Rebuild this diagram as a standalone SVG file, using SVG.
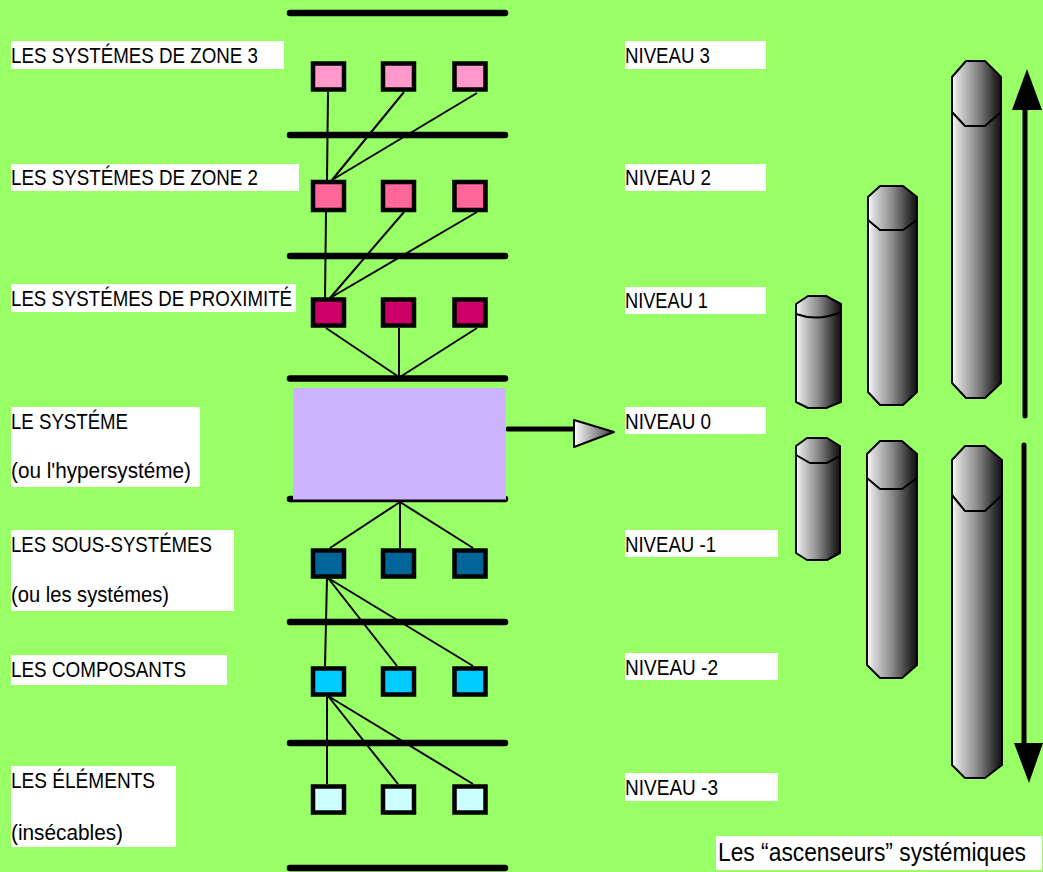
<svg xmlns="http://www.w3.org/2000/svg" width="1043" height="872" viewBox="0 0 1043 872">
<defs>
<linearGradient id="cyl" x1="0" y1="0" x2="1" y2="0">
<stop offset="0" stop-color="#ffffff"/>
<stop offset="0.1" stop-color="#dcdcdc"/>
<stop offset="0.5" stop-color="#8a8a8a"/>
<stop offset="0.88" stop-color="#2a2a2a"/>
<stop offset="1" stop-color="#111111"/>
</linearGradient>
<linearGradient id="tri" x1="0" y1="0" x2="1" y2="0">
<stop offset="0" stop-color="#ffffff"/>
<stop offset="1" stop-color="#3a3a3a"/>
</linearGradient>
<style>
.bar{stroke:#000;stroke-width:6.5;stroke-linecap:round;fill:none}
.ln{stroke:#000;stroke-width:2;fill:none}
.sq{stroke:#000;stroke-width:4.5}
.lbl{fill:#fff}
.t{font-family:"Liberation Sans",Arial,sans-serif;font-size:22px;fill:#000}
.cyl{fill:url(#cyl);stroke:#000;stroke-width:2;stroke-linejoin:round}
.cap{fill:none;stroke:#000;stroke-width:2}
</style>
</defs>
<rect width="1043" height="872" fill="#99FF66"/>

<g id="levels">
<line class="bar" x1="290" y1="13" x2="505" y2="13"/>
<line class="bar" x1="290" y1="135" x2="505" y2="135"/>
<line class="bar" x1="290" y1="256" x2="505" y2="256"/>
<line class="bar" x1="290" y1="378.5" x2="505" y2="378.5"/>
<line class="bar" x1="290" y1="499" x2="505" y2="499"/>
<line class="bar" x1="290" y1="622" x2="505" y2="622"/>
<line class="bar" x1="290" y1="743" x2="505" y2="743"/>
<line class="bar" x1="290" y1="868" x2="505" y2="868"/>
</g>

<g id="connectors">
<line class="ln" x1="328" y1="92" x2="327" y2="180"/>
<line class="ln" x1="404" y1="92" x2="332" y2="180"/>
<line class="ln" x1="477" y1="93" x2="332" y2="180"/>
<line class="ln" x1="326" y1="212" x2="325" y2="300"/>
<line class="ln" x1="404" y1="212" x2="330" y2="298"/>
<line class="ln" x1="477" y1="212" x2="330" y2="298"/>
<line class="ln" x1="326" y1="328" x2="399" y2="377"/>
<line class="ln" x1="399" y1="328" x2="399" y2="377"/>
<line class="ln" x1="477" y1="328" x2="400" y2="377"/>
<line class="ln" x1="400" y1="502" x2="330" y2="548"/>
<line class="ln" x1="400" y1="502" x2="400" y2="548"/>
<line class="ln" x1="400" y1="502" x2="473" y2="548"/>
<line class="ln" x1="327" y1="578" x2="325" y2="666"/>
<line class="ln" x1="328" y1="578" x2="397" y2="666"/>
<line class="ln" x1="328" y1="578" x2="473" y2="666"/>
<line class="ln" x1="327" y1="696" x2="327" y2="784"/>
<line class="ln" x1="328" y1="696" x2="398" y2="784"/>
<line class="ln" x1="328" y1="696" x2="473" y2="784"/>
<line x1="508" y1="429" x2="572" y2="429" stroke="#000" stroke-width="5" stroke-linecap="round"/>
<polygon points="574,420 574,447 614,432" fill="url(#tri)" stroke="#000" stroke-width="2" stroke-linejoin="round"/>
<line x1="1025" y1="106" x2="1025" y2="416" stroke="#000" stroke-width="5" stroke-linecap="round"/>
<polygon points="1012,110 1042,110 1027,69" fill="#000"/>
<line x1="1024" y1="445" x2="1024" y2="747" stroke="#000" stroke-width="5" stroke-linecap="round"/>
<polygon points="1014,743 1043,743 1029,783" fill="#000"/>
</g>

<g id="zone3">
<rect class="sq" x="313" y="63.5" width="31" height="26" fill="#FF99CC"/>
<rect class="sq" x="383" y="63.5" width="31" height="26" fill="#FF99CC"/>
<rect class="sq" x="454.5" y="63.5" width="31" height="26" fill="#FF99CC"/>
</g>
<g id="zone2">
<rect class="sq" x="313" y="182" width="31" height="28" fill="#FF6699"/>
<rect class="sq" x="383" y="182" width="31" height="28" fill="#FF6699"/>
<rect class="sq" x="454.5" y="182" width="31" height="28" fill="#FF6699"/>
</g>
<g id="proximite">
<rect class="sq" x="313" y="299.5" width="31" height="26" fill="#CC0066"/>
<rect class="sq" x="383" y="299.5" width="31" height="26" fill="#CC0066"/>
<rect class="sq" x="454.5" y="299.5" width="31" height="26" fill="#CC0066"/>
</g>
<g id="systeme">
<rect x="293" y="388" width="213" height="111.5" fill="#CCB3FF"/>
</g>
<g id="sous-systemes">
<rect class="sq" x="313" y="550.5" width="31" height="26" fill="#006699"/>
<rect class="sq" x="383" y="550.5" width="31" height="26" fill="#006699"/>
<rect class="sq" x="454.5" y="550.5" width="31" height="26" fill="#006699"/>
</g>
<g id="composants">
<rect class="sq" x="313" y="668.5" width="31" height="26" fill="#00CCFF"/>
<rect class="sq" x="383" y="668.5" width="31" height="26" fill="#00CCFF"/>
<rect class="sq" x="454.5" y="668.5" width="31" height="26" fill="#00CCFF"/>
</g>
<g id="elements">
<rect class="sq" x="313" y="786.5" width="31" height="26" fill="#CCFFFF"/>
<rect class="sq" x="383" y="786.5" width="31" height="26" fill="#CCFFFF"/>
<rect class="sq" x="454.5" y="786.5" width="31" height="26" fill="#CCFFFF"/>
</g>

<g id="label-zone3">
<rect class="lbl" x="11" y="41" width="273" height="28"/>
<text class="t" x="11" y="63" textLength="247" lengthAdjust="spacingAndGlyphs">LES SYSTÉMES DE ZONE 3</text>
</g>
<g id="label-zone2">
<rect class="lbl" x="11" y="164" width="288" height="27"/>
<text class="t" x="11" y="185" textLength="247" lengthAdjust="spacingAndGlyphs">LES SYSTÉMES DE ZONE 2</text>
</g>
<g id="label-proximite">
<rect class="lbl" x="11" y="284" width="285" height="28"/>
<text class="t" x="11" y="306" textLength="281" lengthAdjust="spacingAndGlyphs">LES SYSTÉMES DE PROXIMITÉ</text>
</g>
<g id="label-systeme">
<rect class="lbl" x="11" y="407" width="189" height="80"/>
<text class="t" x="11" y="429" textLength="117" lengthAdjust="spacingAndGlyphs">LE SYSTÉME</text>
<text class="t" x="11" y="478" textLength="180" lengthAdjust="spacingAndGlyphs">(ou l'hypersystéme)</text>
</g>
<g id="label-sous-systemes">
<rect class="lbl" x="11" y="530" width="223" height="81"/>
<text class="t" x="11" y="552" textLength="201" lengthAdjust="spacingAndGlyphs">LES SOUS-SYSTÉMES</text>
<text class="t" x="11" y="602" textLength="158" lengthAdjust="spacingAndGlyphs">(ou les systémes)</text>
</g>
<g id="label-composants">
<rect class="lbl" x="11" y="655" width="216" height="30"/>
<text class="t" x="11" y="677" textLength="175" lengthAdjust="spacingAndGlyphs">LES COMPOSANTS</text>
</g>
<g id="label-elements">
<rect class="lbl" x="11" y="766" width="165" height="81"/>
<text class="t" x="11" y="788" textLength="144" lengthAdjust="spacingAndGlyphs">LES ÉLÉMENTS</text>
<text class="t" x="11" y="840" textLength="112" lengthAdjust="spacingAndGlyphs">(insécables)</text>
</g>

<g id="niveau3">
<rect class="lbl" x="625" y="41" width="141" height="28"/>
<text class="t" x="625" y="63" textLength="85" lengthAdjust="spacingAndGlyphs">NIVEAU 3</text>
</g>
<g id="niveau2">
<rect class="lbl" x="625" y="164" width="141" height="27"/>
<text class="t" x="625" y="185" textLength="86" lengthAdjust="spacingAndGlyphs">NIVEAU 2</text>
</g>
<g id="niveau1">
<rect class="lbl" x="625" y="287" width="141" height="27"/>
<text class="t" x="625" y="308" textLength="83" lengthAdjust="spacingAndGlyphs">NIVEAU 1</text>
</g>
<g id="niveau0">
<rect class="lbl" x="625" y="407" width="141" height="27"/>
<text class="t" x="625" y="429" textLength="86" lengthAdjust="spacingAndGlyphs">NIVEAU 0</text>
</g>
<g id="niveau-1">
<rect class="lbl" x="625" y="530" width="153" height="27"/>
<text class="t" x="625" y="552" textLength="91" lengthAdjust="spacingAndGlyphs">NIVEAU -1</text>
</g>
<g id="niveau-2">
<rect class="lbl" x="625" y="653" width="153" height="27"/>
<text class="t" x="625" y="675" textLength="93" lengthAdjust="spacingAndGlyphs">NIVEAU -2</text>
</g>
<g id="niveau-3">
<rect class="lbl" x="625" y="773" width="153" height="28"/>
<text class="t" x="625" y="795" textLength="93" lengthAdjust="spacingAndGlyphs">NIVEAU -3</text>
</g>

<g id="ascenseurs-haut">
<path class="cyl" d="M796,304 L808,296 L826,296 L841,304 L841,402 L826,408 L808,408 L796,402 Z"/>
<path class="cap" d="M796,314 Q818,322 841,312"/>
<path class="cyl" d="M868,197 L880,186 L903,186 L917,197 L917,392 L903,405 L880,405 L868,392 Z"/>
<path class="cap" d="M868,220 L880,230 L903,230 L917,220"/>
<path class="cyl" d="M952,77 L966,61 L985,61 L1001,77 L1001,383 L985,398 L966,398 L952,383 Z"/>
<path class="cap" d="M952,112 L965,126 L985,126 L1001,112"/>
</g>
<g id="ascenseurs-bas">
<path class="cyl" d="M796,446 L807,438 L827,438 L840,446 L840,553 L827,560 L807,560 L796,553 Z"/>
<path class="cap" d="M796,455 L810,463 L827,463 L840,456"/>
<path class="cyl" d="M867,454 L880,441 L902,441 L917,454 L917,665 L902,678 L880,678 L867,665 Z"/>
<path class="cap" d="M867,478 L880,489 L902,489 L917,478"/>
<path class="cyl" d="M952,460 L965,446 L985,446 L1002,460 L1002,765 L985,778 L965,778 L952,765 Z"/>
<path class="cap" d="M952,495 L965,511 L985,511 L1002,495"/>
</g>

<g id="caption">
<rect class="lbl" x="716" y="836" width="326" height="34"/>
<text x="718" y="861" font-family="Liberation Sans, Arial, sans-serif" font-size="25" fill="#000" textLength="308" lengthAdjust="spacingAndGlyphs">Les “ascenseurs” systémiques</text>
</g>
</svg>
